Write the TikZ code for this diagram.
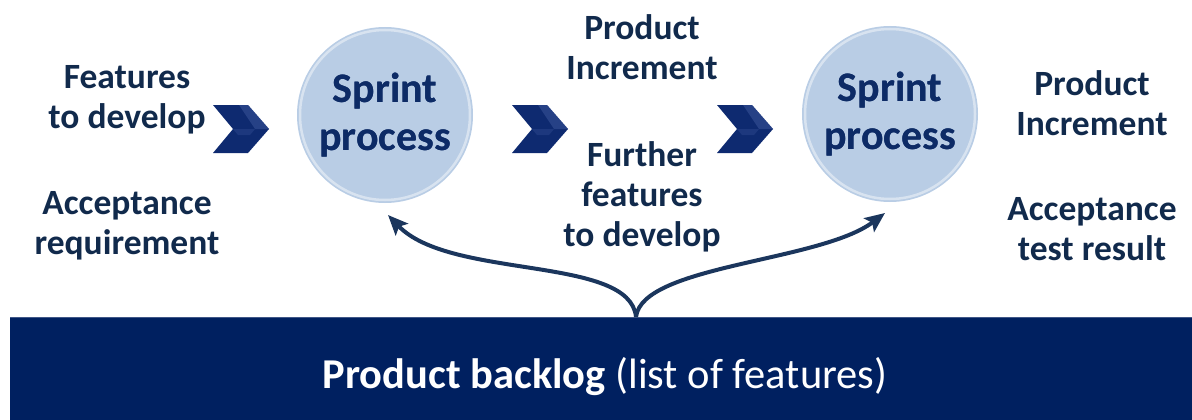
\documentclass[tikz,border=0pt]{standalone}
\usepackage{fontspec}
\setmainfont{Carlito}
\usetikzlibrary{arrows.meta}
\definecolor{navybar}{HTML}{002060}
\definecolor{labeltxt}{HTML}{112A4C}
\definecolor{sprinttxt}{HTML}{0D2B66}
\definecolor{arrowcol}{HTML}{1B365D}
\definecolor{circfill}{HTML}{B9CDE5}
\definecolor{chevcol}{HTML}{0E2A70}
\definecolor{chevhi}{HTML}{3A5499}
\tikzset{
  label/.style={align=center, text=labeltxt, font=\bfseries\fontsize{35.5}{40}\selectfont, inner sep=0pt},
  sprint/.style={circle, minimum size=176pt, fill=circfill, inner sep=0pt, align=center,
     text=sprinttxt, font=\bfseries\fontsize{42}{48}\selectfont},
  backarrow/.style={draw=arrowcol, line width=4pt, -{Stealth[length=20pt,width=17pt,inset=4pt]}},
  chev/.pic={
    \fill[chevcol] (-28,-24) -- (7,-24) -- (28,0) -- (7,24) -- (-28,24) -- (-8,0) -- cycle;
    \fill[chevhi, opacity=0.55] (-2,-24) -- (7,-24) -- (28,0) -- (14,0) -- cycle;
    \fill[chevhi, opacity=0.35] (-8,0) -- (14,0) -- (9,6) -- (-3,6) -- cycle;
  }
}
\begin{document}
\begin{tikzpicture}[x=1pt,y=-1pt]
\useasboundingbox (0,0) rectangle (1192,420);
% backlog bar
\node[fill=navybar, minimum width=1182pt, minimum height=103pt, inner sep=0pt, anchor=north west] (bar) at (10,317) {};
\draw[white, opacity=0.25, line width=1pt] (bar.north west) -- (bar.north east);
\node[text=white, font=\fontsize{42.5}{46}\selectfont, inner sep=0pt] (bartxt) at (605,377) {\textbf{Product backlog} (list of features)};
% sprint circles
\node[sprint] (s1) at (385,115) {Sprint\\process};
\node[sprint] (s2) at (890,114) {Sprint\\process};
\foreach \c in {s1,s2}{
  \draw[white, opacity=0.45, line width=2.5pt] (\c.center) circle (85pt);
}
\node[sprint, fill=none] at (s1) {Sprint\\process};
\node[sprint, fill=none] at (s2) {Sprint\\process};
% labels
\node[label] (in1) at (127,100) {Features\\to develop};
\node[label] (in2) at (127,226) {Acceptance\\requirement};
\node[label] (mid1) at (642,47) {Product\\Increment};
\node[label] (mid2) at (642,197) {Further\\features\\to develop};
\node[label] (out1) at (1092,103) {Product\\Increment};
\node[label] (out2) at (1092,229) {Acceptance\\test result};
% chevrons
\pic at (241,129) {chev};
\pic at (540,129) {chev};
\pic at (745,129) {chev};
% arrows from backlog
\coordinate (root) at (636,317);
\coordinate (t1) at (388,215);
\coordinate (t2) at (885,213);
\draw[backarrow] (root) .. controls (630,255) and (450,280) .. (t1);
\draw[backarrow] (root) .. controls (642,265) and (820,262) .. (t2);
\end{tikzpicture}
\end{document}
